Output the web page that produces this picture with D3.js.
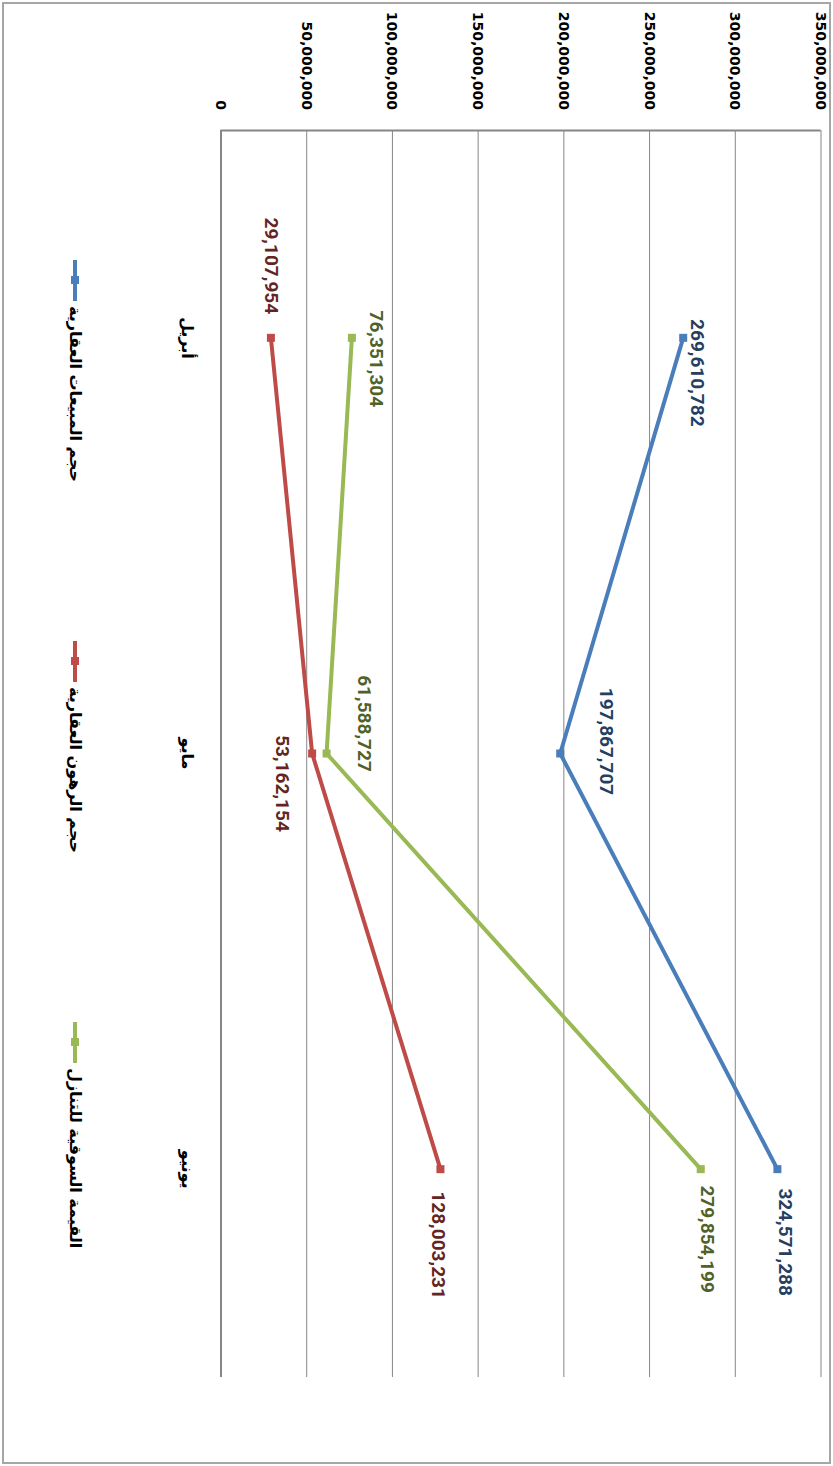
<!DOCTYPE html>
<html>
<head>
<meta charset="utf-8">
<script src="https://cdn.jsdelivr.net/npm/d3@7"></script>
<style>
  body { margin: 0; background: #fff; }
</style>
</head>
<body>
<div id="chart"></div>
<script>
  const W = 833, H = 1466;

  // data
  const months = ["أبريل", "مايو", "يونيو"];
  const seriesNames = ["حجم المبيعات العقارية", "حجم الرهون العقارية", "القيمة السوقية للتنازل"];
  const sales = [269610782, 197867707, 324571288];
  const mortgages = [29107954, 53162154, 128003231];
  const marketValue = [76351304, 61588727, 279854199];
  const ticks = [0, 50000000, 100000000, 150000000, 200000000, 250000000, 300000000, 350000000];

  const colors = ["#4A7EBB", "#BE4B48", "#98B954"];
  const labelColors = ["#243F60", "#632523", "#4F6228"];
  // hand-placed label offsets (unrotated frame), like the moved Excel labels
  const labelOffsets = [
    [[35, -14], [-12, -46], [73, -8]],
    [[-72, -1], [30, 30], [76, 2]],
    [[21, -25], [-30, -38], [70, -7]]
  ];

  const series = [sales, mortgages, marketValue];

  const svg = d3.select("#chart")
    .append("svg")
    .attr("width", W)
    .attr("height", H);

  // whole chart is drawn flat then turned 90deg clockwise
  const g = svg.append("g")
    .attr("transform", "translate(" + W + ",0) rotate(90)");

  // outer frame (unrotated: 1466 wide, 833 high)
  g.append("rect")
    .attr("x", 3).attr("y", 3)
    .attr("width", H - 6).attr("height", W - 6)
    .attr("fill", "none")
    .style("stroke", "#a6a6a6")
    .style("stroke-width", "2px");

  const x = d3.scaleBand().domain(months).range([130, 1377]);
  const y = d3.scaleLinear().domain([0, 350000000]).range([612, 12]);
  const fmt = d3.format(",");

  // gridlines
  g.selectAll(".grid")
    .data(ticks.slice(1))
    .enter().append("line")
    .attr("x1", 130).attr("x2", 1377)
    .attr("y1", d => y(d)).attr("y2", d => y(d))
    .style("stroke", "#868686")
    .style("stroke-width", "1px");

  // value axis
  const yAxis = g.append("g")
    .attr("transform", "translate(130,0)")
    .call(d3.axisLeft(y).tickValues(ticks).tickFormat(fmt).tickSize(0).tickPadding(20));
  yAxis.select(".domain").style("stroke", "#868686").style("stroke-width", "2px");
  yAxis.selectAll("text")
    .style("font-family", "'DejaVu Sans'")
    .style("font-weight", "bold")
    .style("font-size", "14px")
    .style("fill", "#000");

  // category axis line
  g.append("line")
    .attr("x1", 130).attr("x2", 1377)
    .attr("y1", y(0)).attr("y2", y(0))
    .style("stroke", "#868686")
    .style("stroke-width", "2px");

  g.selectAll(".cat")
    .data(months)
    .enter().append("text")
    .attr("x", d => x(d) + x.bandwidth() / 2)
    .attr("y", y(0) + 34)
    .attr("text-anchor", "middle")
    .attr("dominant-baseline", "central")
    .style("font-family", "'DejaVu Sans'")
    .style("font-weight", "bold")
    .style("font-size", "16px")
    .text(d => d);

  const cx = (d, i) => x(months[i]) + x.bandwidth() / 2;

  series.forEach((vals, s) => {
    const line = d3.line()
      .x((d, i) => cx(d, i))
      .y(d => y(d));
    g.append("path")
      .attr("d", line(vals))
      .style("fill", "none")
      .style("stroke", colors[s])
      .style("stroke-width", "4px")
      .style("stroke-linejoin", "round");

    g.selectAll(".m" + s)
      .data(vals)
      .enter().append("rect")
      .attr("x", (d, i) => cx(d, i) - 4)
      .attr("y", d => y(d) - 4)
      .attr("width", 8).attr("height", 8)
      .attr("fill", colors[s]);

    g.selectAll(".l" + s)
      .data(vals)
      .enter().append("text")
      .attr("x", (d, i) => cx(d, i) + labelOffsets[s][i][0])
      .attr("y", (d, i) => y(d) + labelOffsets[s][i][1])
      .attr("text-anchor", "middle")
      .attr("dominant-baseline", "central")
      .style("font-family", "Roboto, 'Liberation Sans', Arial")
      .style("font-weight", "bold")
      .style("font-size", "19px")
      .style("fill", labelColors[s])
      .text(d => fmt(d));
  });

  // legend
  const legendY = 758;
  seriesNames.forEach((name, s) => {
    const lx = 260 + s * 381;
    g.append("line")
      .attr("x1", lx).attr("x2", lx + 41)
      .attr("y1", legendY).attr("y2", legendY)
      .style("stroke", colors[s])
      .style("stroke-width", "4px");
    g.append("rect")
      .attr("x", lx + 16).attr("y", legendY - 4)
      .attr("width", 8).attr("height", 8)
      .attr("fill", colors[s]);
    g.append("text")
      .attr("x", lx + 46)
      .attr("y", legendY)
      .attr("text-anchor", "start")
      .attr("dominant-baseline", "central")
      .style("font-family", "'DejaVu Sans'")
      .style("font-weight", "bold")
      .style("font-size", "16px")
      .text(name);
  });
</script>
</body>
</html>
